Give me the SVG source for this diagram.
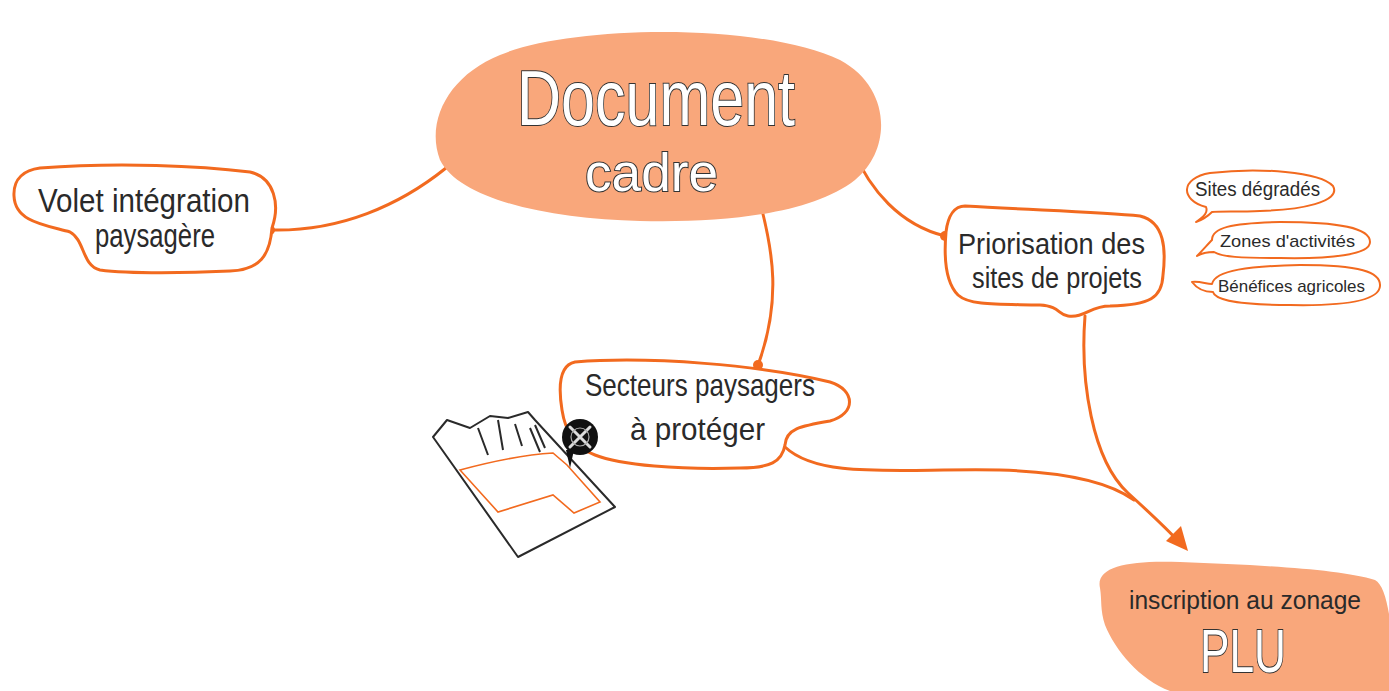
<svg xmlns="http://www.w3.org/2000/svg" width="1389" height="691" viewBox="0 0 1389 691">
  <style>
    .blob { fill: #F9A77B; stroke: none; }
    .bubble { fill: #ffffff; stroke: #F26A1F; stroke-width: 3; stroke-linejoin: round; }
    .small { fill: #ffffff; stroke: #F26A1F; stroke-width: 2; stroke-linejoin: round; }
    .link { fill: none; stroke: #F26A1F; stroke-width: 3; stroke-linecap: round; }
    .dot { fill: #F26A1F; }
    .hand { font-family: "Liberation Sans", "DejaVu Sans", sans-serif; fill: #2a2a2a; }
    .hollow { font-family: "Liberation Sans", "DejaVu Sans", sans-serif; fill: #ffffff; stroke: #333333; stroke-width: 2; paint-order: stroke; }
    .sketch { fill: none; stroke: #2a2a2a; stroke-width: 2; stroke-linejoin: round; }
  </style>

  <!-- connectors -->
  <g id="connectors">
    <path class="link" d="M 446 168 C 400 205, 340 232, 270 230"/>
    <path class="link" d="M 762 210 C 772 250, 782 300, 758 365"/>
    <path class="link" d="M 853 150 C 870 190, 900 225, 945 236"/>
    <path class="link" d="M 1085 316 C 1080 380, 1092 460, 1128 493 C 1150 513, 1168 530, 1180 543"/>
    <path class="link" d="M 785 447 C 820 480, 900 468, 1000 470 C 1070 472, 1112 484, 1134 500"/>
    <polygon fill="#F26A1F" points="1188,551 1166,541 1181,526"/>
    <circle class="dot" cx="270" cy="230" r="5"/>
    <circle class="dot" cx="758" cy="365" r="5"/>
    <circle class="dot" cx="945" cy="236" r="5"/>
  </g>

  <!-- central node -->
  <g id="document-cadre">
    <path class="blob" d="M 500 55 C 570 25, 760 22, 840 60 C 892 88, 892 150, 855 180 C 810 215, 720 223, 640 221 C 550 219, 460 200, 440 160 C 425 120, 450 75, 500 55 Z"/>
    <text class="hollow" x="517" y="125" font-size="78" textLength="278" lengthAdjust="spacingAndGlyphs">Document</text>
    <text class="hollow" x="585" y="191" font-size="54" textLength="133" lengthAdjust="spacingAndGlyphs">cadre</text>
  </g>

  <!-- landscape integration -->
  <g id="volet">
    <path class="bubble" d="M 40 168 C 120 162, 200 166, 250 172 C 275 178, 280 205, 272 228 C 270 255, 260 270, 230 271 C 190 273, 130 274, 100 270 C 82 266, 85 240, 70 232 C 45 225, 15 222, 14 196 C 13 178, 25 170, 40 168 Z"/>
    <text class="hand" x="38" y="212" font-size="34" textLength="212" lengthAdjust="spacingAndGlyphs">Volet intégration</text>
    <text class="hand" x="95" y="247" font-size="34" textLength="120" lengthAdjust="spacingAndGlyphs">paysagère</text>
  </g>

  <!-- protected sectors -->
  <g id="secteurs">
    <path class="bubble" d="M 575 362 C 650 356, 760 365, 830 382 C 856 390, 856 414, 830 421 C 800 426, 786 429, 785 445 C 782 462, 770 468, 740 468 C 680 470, 620 465, 595 455 C 575 448, 565 430, 562 410 C 558 385, 560 365, 575 362 Z"/>
    <text class="hand" x="585" y="396" font-size="32" textLength="230" lengthAdjust="spacingAndGlyphs">Secteurs paysagers</text>
    <text class="hand" x="630" y="440" font-size="32" textLength="135" lengthAdjust="spacingAndGlyphs">à protéger</text>
  </g>

  <!-- map sketch with marker -->
  <g id="carte">
    <path class="sketch" d="M 433 437 L 447 420 L 470 428 L 490 416 L 508 418 L 528 412 L 535 420 L 615 507 L 518 557 Z"/>
    <path class="sketch" stroke-width="1.3" d="M 478 428 L 488 455 M 498 420 L 503 450 M 515 424 L 522 446 M 535 425 L 545 448 M 530 428 L 540 452"/>
    <path fill="none" stroke="#F26A1F" stroke-width="1.6" d="M 460 470 C 490 462, 520 455, 553 453 L 567 465 L 600 502 L 574 513 L 553 495 L 498 512 Z"/>
    <path d="M 566 450 L 574 450 L 570 468 Z" fill="#111111"/>
    <circle cx="580" cy="437" r="18" fill="#111111"/>
    <path d="M 570 427 L 590 447 M 590 427 L 570 447" stroke="#dddddd" stroke-width="3" stroke-linecap="round"/>
    <circle cx="580" cy="437" r="9" fill="none" stroke="#aaaaaa" stroke-width="1.2"/>
  </g>

  <!-- project sites priority -->
  <g id="priorisation">
    <path class="bubble" d="M 965 206 C 1030 210, 1100 212, 1140 216 C 1165 222, 1166 250, 1163 275 C 1162 298, 1150 305, 1110 306 C 1090 306, 1085 318, 1068 316 C 1058 315, 1060 306, 1040 305 C 1000 304, 970 306, 958 295 C 945 282, 944 255, 946 232 C 948 215, 955 206, 965 206 Z"/>
    <text class="hand" x="958" y="254" font-size="30" textLength="187" lengthAdjust="spacingAndGlyphs">Priorisation des</text>
    <text class="hand" x="972" y="288" font-size="30" textLength="170" lengthAdjust="spacingAndGlyphs">sites de projets</text>
  </g>

  <g id="sites-degrades">
    <path class="small" d="M 1196 222 C 1205 216, 1208 212, 1206 207 C 1180 200, 1180 178, 1210 173 C 1260 167, 1320 172, 1333 186 C 1342 202, 1300 210, 1260 211 C 1238 212, 1220 211, 1212 212 C 1208 216, 1202 220, 1196 222 Z"/>
    <text class="hand" x="1195" y="196" font-size="20" textLength="125" lengthAdjust="spacingAndGlyphs">Sites dégradés</text>
  </g>

  <g id="zones-activites">
    <path class="small" d="M 1197 256 C 1203 250, 1208 244, 1212 240 C 1212 228, 1230 223, 1280 222 C 1340 222, 1370 228, 1370 242 C 1370 255, 1330 259, 1280 258 C 1240 258, 1222 257, 1214 252 C 1208 252, 1202 253, 1197 256 Z"/>
    <text class="hand" x="1220" y="247" font-size="17" textLength="135" lengthAdjust="spacingAndGlyphs">Zones d'activités</text>
  </g>

  <g id="benefices-agricoles">
    <path class="small" d="M 1192 282 C 1200 281, 1206 284, 1212 284 C 1215 270, 1250 266, 1300 265 C 1360 265, 1381 272, 1380 286 C 1379 302, 1340 306, 1290 305 C 1240 305, 1215 300, 1213 292 C 1205 292, 1198 290, 1192 282 Z"/>
    <text class="hand" x="1218" y="292" font-size="17" textLength="147" lengthAdjust="spacingAndGlyphs">Bénéfices agricoles</text>
  </g>

  <!-- zoning outcome -->
  <g id="plu">
    <path class="blob" d="M 1100 588 C 1095 566, 1130 560, 1180 562 C 1260 565, 1340 569, 1375 580 C 1395 590, 1395 691, 1389 691 L 1170 691 C 1140 680, 1115 650, 1105 625 C 1100 610, 1102 600, 1100 588 Z"/>
    <text class="hand" x="1129" y="609" font-size="26" textLength="232" lengthAdjust="spacingAndGlyphs">inscription au zonage</text>
    <text class="hollow" x="1200" y="672" font-size="62" textLength="86" lengthAdjust="spacingAndGlyphs">PLU</text>
  </g>
</svg>
